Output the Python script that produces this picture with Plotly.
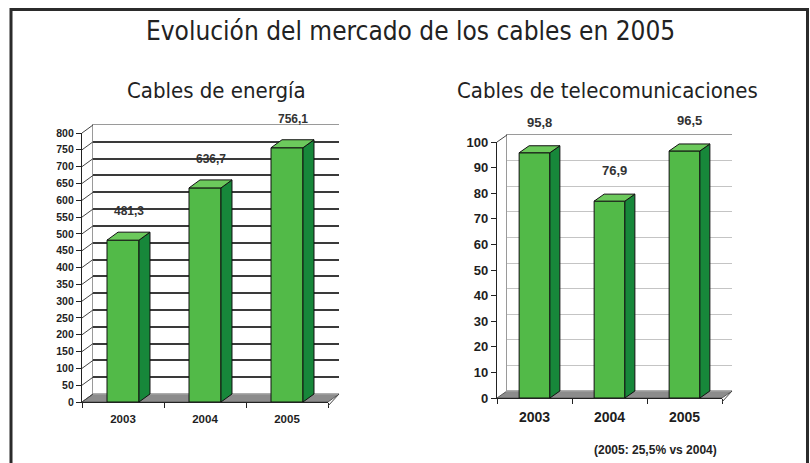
import plotly.graph_objects as go

# ---------------- data ----------------
years = ["2003", "2004", "2005"]
energia = [481.3, 636.7, 756.1]
telecom = [95.8, 76.9, 96.5]
energia_labels = ["481,3", "636,7", "756,1"]
telecom_labels = ["95,8", "76,9", "96,5"]

title = "Evolución del mercado de los cables en 2005"
sub_left = "Cables de energía"
sub_right = "Cables de telecomunicaciones"
note_right = "(2005: 25,5% vs 2004)"

W, H = 810, 463


def fx(p):
    return p / W


def fy(p):
    return 1 - p / H


FRONT = "#52ba48"
SIDE = "#17873a"
TOP = "#6cc95c"
EDGE = "#111111"
TXT = "#1e1e1e"

charts = [
    dict(vals=energia, labels=energia_labels, wall=("x", "y"), front=("x2", "y2"),
         x0=82, x1=328, zero=402, top=133, dx=11, dy=8, ymax=800, dtick=50, barw=0.39,
         gridcolor="#3a3a3a", gridwidth=2, wallline="#9a9a9a", tickfont=10.5, yearfont=11.5,
         valfont=12, valshift=12, diag_all=True, standoff=6),
    dict(vals=telecom, labels=telecom_labels, wall=("x3", "y3"), front=("x4", "y4"),
         x0=497, x1=722, zero=398, top=142, dx=10, dy=7, ymax=100, dtick=10, barw=0.41,
         gridcolor="#c4c4c4", gridwidth=1, wallline="#9a9a9a", tickfont=13, yearfont=14,
         valfont=13, valshift=14, diag_all=False, standoff=6),
]

fig = go.Figure()
shapes = []
annotations = []
layout_axes = {}

for c in charts:
    wx, wy = c["wall"]
    fxa, fya = c["front"]
    ux = 3.0 / (c["x1"] - c["x0"])            # category units per pixel
    uy = c["ymax"] / (c["zero"] - c["top"])   # value units per pixel
    ddx = c["dx"] * ux
    ddy = c["dy"] * uy
    hw = c["barw"] / 2

    # invisible helper trace on the back-wall subplot (same data)
    fig.add_trace(go.Bar(x=years, y=c["vals"], xaxis=wx, yaxis=wy, marker=dict(opacity=0),
                         hoverinfo="skip", showlegend=False))
    # front bars
    fig.add_trace(go.Bar(x=years, y=c["vals"], xaxis=fxa, yaxis=fya, width=c["barw"],
                         marker=dict(color=FRONT, line=dict(color=EDGE, width=1)),
                         showlegend=False))

    wxn = "xaxis" + wx[1:]
    wyn = "yaxis" + wy[1:]
    fxn = "xaxis" + fxa[1:]
    fyn = "yaxis" + fya[1:]

    layout_axes[wxn] = dict(domain=[fx(c["x0"] + c["dx"]), fx(c["x1"] + c["dx"])], anchor=wy,
                            type="category", range=[-0.5, 2.5], showticklabels=False, ticks="",
                            showgrid=False, showline=True, mirror=True, linecolor=c["wallline"],
                            linewidth=1, fixedrange=True)
    layout_axes[wyn] = dict(domain=[fy(c["zero"] - c["dy"]), fy(c["top"] - c["dy"])], anchor=wx,
                            range=[0, c["ymax"]], tickvals=list(range(0, c["ymax"], c["dtick"])),
                            showticklabels=False, ticks="", showgrid=True, gridcolor=c["gridcolor"],
                            gridwidth=c["gridwidth"], zeroline=False, showline=True,
                            linecolor=c["wallline"], linewidth=1, fixedrange=True)
    layout_axes[fxn] = dict(domain=[fx(c["x0"]), fx(c["x1"])], anchor=fya, type="category",
                            range=[-0.5, 2.5], showline=True, linecolor="#222", linewidth=1.2,
                            ticks="outside", tickson="boundaries", ticklen=5, tickcolor="#222",
                            ticklabelstandoff=c["standoff"],
                            showgrid=False, tickfont=dict(family="Liberation Sans", size=c["yearfont"],
                                                          color=TXT, weight="bold"),
                            fixedrange=True)
    layout_axes[fyn] = dict(domain=[fy(c["zero"]), fy(c["top"])], anchor=fxa, range=[0, c["ymax"]],
                            dtick=c["dtick"], ticks="outside", ticklen=5, tickcolor="#222",
                            showline=True, linecolor="#222", linewidth=1.2, showgrid=False,
                            zeroline=False,
                            tickfont=dict(family="Liberation Sans", size=c["tickfont"], color=TXT,
                                          weight="bold"),
                            fixedrange=True)

    # floor
    shapes.append(dict(type="path", xref="paper", yref="paper", layer="below",
                       path=f"M {fx(c['x0'])},{fy(c['zero'])} L {fx(c['x1'])},{fy(c['zero'])} "
                            f"L {fx(c['x1'] + c['dx'])},{fy(c['zero'] - c['dy'])} "
                            f"L {fx(c['x0'] + c['dx'])},{fy(c['zero'] - c['dy'])} Z",
                       fillcolor="#8c8c8c", line=dict(color="#5a5a5a", width=1)))

    # diagonal connectors from the axis to the back wall
    ticks = list(range(0, c["ymax"] + 1, c["dtick"])) if c["diag_all"] else [c["ymax"]]
    for t in ticks:
        ypx = c["zero"] - t / uy
        shapes.append(dict(type="line", xref="paper", yref="paper",
                           x0=fx(c["x0"]), y0=fy(ypx), x1=fx(c["x0"] + c["dx"]), y1=fy(ypx - c["dy"]),
                           line=dict(color="#444", width=1)))
    # right end of floor diagonal
    shapes.append(dict(type="line", xref="paper", yref="paper",
                       x0=fx(c["x1"]), y0=fy(c["zero"] + 4), x1=fx(c["x1"] + c["dx"]),
                       y1=fy(c["zero"] - c["dy"]), line=dict(color="#444", width=1)))

    # 3-D side & top faces
    for i, v in enumerate(c["vals"]):
        shapes.append(dict(type="path", xref=fxa, yref=fya, layer="above",
                           path=f"M {i + hw},{0} L {i + hw + ddx},{ddy} L {i + hw + ddx},{v + ddy} "
                                f"L {i + hw},{v} Z",
                           fillcolor=SIDE, line=dict(color=EDGE, width=1)))
        shapes.append(dict(type="path", xref=fxa, yref=fya, layer="above",
                           path=f"M {i - hw},{v} L {i - hw + ddx},{v + ddy} L {i + hw + ddx},{v + ddy} "
                                f"L {i + hw},{v} Z",
                           fillcolor=TOP, line=dict(color=EDGE, width=1)))
        annotations.append(dict(x=i + ddx / 2, y=v + ddy, xref=fxa, yref=fya, text=c["labels"][i],
                                showarrow=False, xanchor="center", yanchor="bottom",
                                yshift=c["valshift"],
                                font=dict(family="Liberation Sans", size=c["valfont"], color="#333",
                                          weight="bold")))

# frame
shapes.append(dict(type="rect", xref="paper", yref="paper", x0=fx(11), x1=fx(807.5), y0=fy(480),
                   y1=fy(9.5), line=dict(color="#2b2b2b", width=3), layer="above"))

# titles
TFONT = "DejaVu Sans Condensed, Roboto"
annotations.append(dict(x=fx(410), y=fy(31), xref="paper", yref="paper", text=title, showarrow=False,
                        xanchor="center", yanchor="middle",
                        font=dict(family=TFONT, size=26, color="#222")))
annotations.append(dict(x=fx(216), y=fy(90), xref="paper", yref="paper", text=sub_left,
                        showarrow=False, xanchor="center", yanchor="middle",
                        font=dict(family=TFONT, size=22, color="#222")))
annotations.append(dict(x=fx(607), y=fy(90), xref="paper", yref="paper", text=sub_right,
                        showarrow=False, xanchor="center", yanchor="middle",
                        font=dict(family=TFONT, size=22, color="#222")))
annotations.append(dict(x=fx(655), y=fy(450), xref="paper", yref="paper", text=note_right,
                        showarrow=False, xanchor="center", yanchor="middle",
                        font=dict(family="Liberation Sans", size=12, color="#222", weight="bold")))

fig.update_layout(width=W, height=H, margin=dict(l=0, r=0, t=0, b=0, pad=0, autoexpand=False),
                  paper_bgcolor="white", plot_bgcolor="rgba(0,0,0,0)", showlegend=False,
                  shapes=shapes, annotations=annotations, barmode="overlay", **layout_axes)

fig.write_html("out.html", config={"displayModeBar": False},
               post_script="document.body.style.margin='0';document.body.style.overflow='hidden';")
